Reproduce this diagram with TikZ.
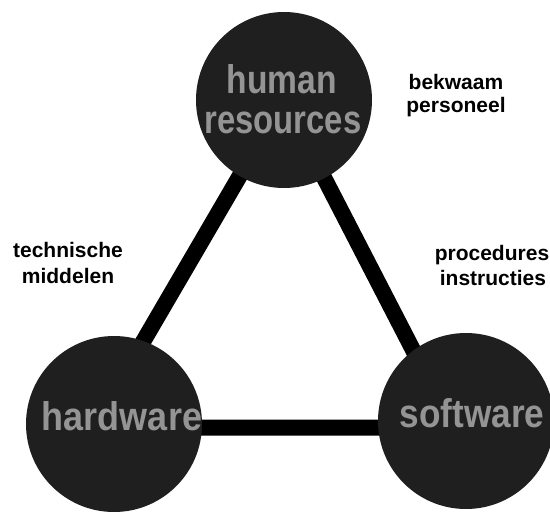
\documentclass[tikz,border=0pt]{standalone}
\usepackage{fontspec}
\setmainfont{Liberation Sans}
\begin{document}
\begin{tikzpicture}[x=1pt,y=-1pt,
  ball/.style={circle, fill=black!88, minimum size=176pt, inner sep=0pt},
  balltext/.style={anchor=base, inner sep=0pt, text=black!42,
    font=\bfseries\fontsize{40}{40}\selectfont},
  link/.style={line width=16pt, black},
  note/.style={anchor=base, inner sep=0pt,
    font=\bfseries\fontsize{21}{24}\selectfont}]
\useasboundingbox (0,0) rectangle (550,515);

% corners of the triangle that joins the three discs
\coordinate (cornerT) at (284,100);
\coordinate (cornerL) at (93,427.5);
\coordinate (cornerR) at (453,427.5);

\draw[link] (cornerT) -- (cornerL) -- (cornerR) -- cycle;

% discs
\node[ball] (hr) at (284,100) {};
\node[ball] (hw) at (114,424) {};
\node[ball] (sw) at (466,421) {};

% disc captions
\node[balltext] (hrA) at (282,93) {\scalebox{0.84}[1]{human}};
\node[balltext] (hrB) at (283,133) {\scalebox{0.82}[1]{resources}};
\node[balltext] (hwT) at (122,430) {\scalebox{0.9}[1]{hardware}};
\node[balltext] (swT) at (472,427) {\scalebox{0.88}[1]{software}};

% side notes
\node[note] (n1a) at (456,89) {bekwaam};
\node[note] (n1b) at (456,112) {personeel};
\node[note] (n2a) at (68,257) {technische};
\node[note] (n2b) at (68,283) {middelen};
\node[note] (n3a) at (492,260) {procedures};
\node[note] (n3b) at (493,285) {instructies};
\end{tikzpicture}
\end{document}
